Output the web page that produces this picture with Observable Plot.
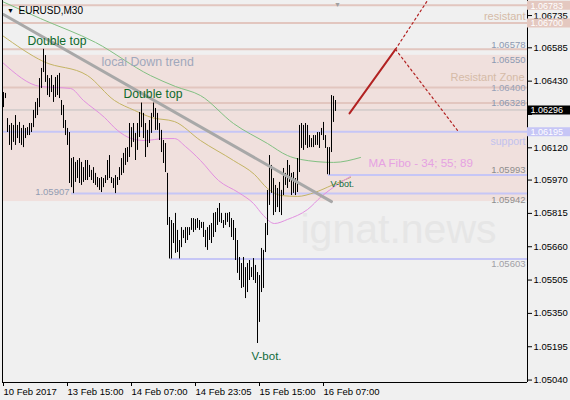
<!DOCTYPE html>
<html>
<head>
<meta charset="utf-8">
<script src="https://cdn.jsdelivr.net/npm/d3@7"></script>
<script src="https://cdn.jsdelivr.net/npm/@observablehq/plot@0.6"></script>
<style>
  html, body { margin: 0; padding: 0; background: #f0f0f0; }
  #chart svg { display: block; }
</style>
</head>
<body>
<div id="chart"></div>
<script>
// EURUSD M30 bars: high / low per bar (bar index 0 = first visible bar)
const symbol = "EURUSD,M30";
const highs = [
  1.06377,1.06373,1.06256,1.06224,1.06233,1.06224,1.06270,1.06224,1.06238,1.06210,
  1.06224,1.06210,1.06214,1.06233,1.06233,1.06294,1.06331,1.06349,1.06442,1.06489,
  1.06578,1.06549,1.06456,1.06442,1.06456,1.06410,1.06447,1.06456,1.06466,1.06340,
  1.06317,1.06247,1.06210,1.06191,1.06070,1.06075,1.06052,1.06061,1.06070,1.06052,
  1.06028,1.06061,1.06061,1.06038,1.06015,1.06028,1.06001,1.05982,1.05977,1.05982,
  1.05977,1.05991,1.06061,1.06084,1.05982,1.05977,1.05991,1.05982,1.06028,1.06070,
  1.06094,1.06117,1.06121,1.06233,1.06214,1.06233,1.06187,1.06233,1.06284,1.06328,
  1.06280,1.06233,1.06201,1.06247,1.06280,1.06328,1.06303,1.06280,1.06233,1.06201,
  1.06154,1.06140,1.06001,1.05796,1.05782,1.05768,1.05815,1.05736,1.05689,1.05749,
  1.05736,1.05749,1.05749,1.05749,1.05791,1.05791,1.05787,1.05791,1.05782,1.05773,
  1.05773,1.05736,1.05749,1.05759,1.05768,1.05815,1.05819,1.05838,1.05861,1.05815,
  1.05782,1.05815,1.05815,1.05819,1.05791,1.05782,1.05745,1.05689,1.05610,1.05582,
  1.05610,1.05563,1.05582,1.05596,1.05563,1.05605,1.05573,1.05540,1.05526,1.05652,
  1.05643,1.05768,1.05922,1.06084,1.06038,1.05977,1.05945,1.05931,1.05959,1.05922,
  1.06024,1.06001,1.06061,1.06038,1.06001,1.06005,1.05977,1.06070,1.06224,1.06233,
  1.06224,1.06233,1.06224,1.06177,1.06163,1.06177,1.06177,1.06191,1.06191,1.06210,
  1.06238,1.06177,1.06121,1.06121,1.06363,1.06359,1.06340
];
const lows = [
  1.06307,1.06349,1.06191,1.06131,1.06108,1.06145,1.06131,1.06163,1.06140,1.06131,
  1.06121,1.06163,1.06177,1.06177,1.06191,1.06214,1.06256,1.06270,1.06307,1.06396,
  1.06470,1.06424,1.06363,1.06354,1.06377,1.06331,1.06354,1.06363,1.06349,1.06270,
  1.06210,1.06177,1.06131,1.05954,1.05935,1.05907,1.05959,1.05977,1.05954,1.05945,
  1.05959,1.05968,1.05968,1.05982,1.05968,1.05954,1.05945,1.05935,1.05922,1.05912,
  1.05935,1.05954,1.05968,1.05977,1.05954,1.05931,1.05907,1.05945,1.05968,1.05991,
  1.06001,1.06038,1.06052,1.06075,1.06121,1.06145,1.06061,1.06108,1.06168,1.06214,
  1.06163,1.06075,1.06121,1.06140,1.06187,1.06261,1.06201,1.06201,1.06154,1.06098,
  1.06047,1.06005,1.05759,1.05603,1.05603,1.05675,1.05629,1.05633,1.05603,1.05656,
  1.05698,1.05675,1.05689,1.05712,1.05736,1.05726,1.05736,1.05745,1.05736,1.05745,
  1.05703,1.05656,1.05643,1.05689,1.05675,1.05703,1.05726,1.05759,1.05773,1.05768,
  1.05745,1.05759,1.05773,1.05749,1.05703,1.05689,1.05596,1.05536,1.05503,1.05466,
  1.05470,1.05419,1.05447,1.05503,1.05517,1.05503,1.05489,1.05210,1.05308,1.05447,
  1.05466,1.05633,1.05712,1.05852,1.05908,1.05805,1.05819,1.05842,1.05819,1.05805,
  1.05898,1.05945,1.05931,1.05959,1.05898,1.05908,1.05898,1.05912,1.06005,1.06117,
  1.06108,1.06131,1.06117,1.06121,1.06121,1.06121,1.06131,1.06131,1.06117,1.06177,
  1.06154,1.06117,1.05995,1.05993,1.06098,1.06238,1.06289
];

// time axis
const timeTicks = [0, 32, 64, 96, 128, 160];
const timeLabels = ["10 Feb 2017", "13 Feb 15:00", "14 Feb 07:00", "14 Feb 23:05", "15 Feb 15:00", "16 Feb 07:00"];

// price axis (the 1.06275 mark sits under the last-price tag, so only its tick is drawn)
const priceTicks = [1.06735, 1.06585, 1.06430, 1.06275, 1.06120, 1.05970, 1.05815, 1.05660, 1.05505, 1.05350, 1.05195, 1.05040];
const coveredTick = 1.06275;
const lastPrice = 1.06296;

// moving averages (MA Fibo 34 / 55 / 89), sampled along the bar index
const ma89Index = [-0.5, 18.5, 46, 73.5, 86, 98.5, 115, 132, 142, 148.5, 165, 178.5];
const ma89Price = [1.06800, 1.06721, 1.06610, 1.06456, 1.06405, 1.06363, 1.06233, 1.06140, 1.06084, 1.06066, 1.06052, 1.06075];
const ma55Index = [-0.5, 20, 42, 55.5, 65.5, 74, 85.5, 98.5, 115, 125.5, 132, 139, 147, 155.5, 164, 173.5];
const ma55Price = [1.06642, 1.06521, 1.06456, 1.06340, 1.06294, 1.06261, 1.06242, 1.06154, 1.06061, 1.05996, 1.05931, 1.05898, 1.05894, 1.05912, 1.05945, 1.05982];
const ma34Index = [-0.5, 18.5, 33.5, 40, 50.5, 57, 64, 70.5, 80.5, 85.5, 91, 98.5, 107.5, 117.5, 125, 130, 135.5, 142, 152, 159, 165.5, 173.5];
const ma34Price = [1.06517, 1.06405, 1.06396, 1.06340, 1.06261, 1.06201, 1.06163, 1.06154, 1.06163, 1.06163, 1.06126, 1.06061, 1.05968, 1.05912, 1.05861, 1.05805, 1.05768, 1.05787, 1.05833, 1.05894, 1.05940, 1.05987];

// resistance levels (line starts at the given bar index)
const resistPrices = [1.06783, 1.06700, 1.06578, 1.06400, 1.06328];
const resistStarts = [-0.5, -0.5, -0.5, -0.5, 62];
// support levels
const supportPrices = [1.06195, 1.05993, 1.05907, 1.05603];
const supportStarts = [-0.5, 162.5, 34, 83.5];
// resistant zone
const zoneTop = 1.06550;
const zoneBottom = 1.05870;

// local down trend line
const trendIndex = [0, 164];
const trendPrice = [1.06740, 1.05870];
// projected move
const projIndex = [173, 196];
const projPrice = [1.06280, 1.06578];
const projUpIndex = [196, 212];
const projUpPrice = [1.06578, 1.06805];
const projDownIndex = [196, 227.5];
const projDownPrice = [1.06578, 1.06195];

// price tags on the right scale
const tagPrices = [1.06783, 1.06700, 1.06296, 1.06195];
const tagKinds = ["resist", "resist", "last", "support"];

// level notes
const noteText = ["1.06578", "1.06550", "1.06400", "1.06328", "1.05993", "1.05942", "1.05603"];
const noteValue = [1.06578, 1.06550, 1.06400, 1.06328, 1.05993, 1.05942, 1.05603];
const leftNoteText = "1.05907";
const leftNoteValue = 1.05907;

// ---------------------------------------------------------------------------
const bars = highs.map((h, i) => ({i, high: h, low: lows[i]}));
const toPts = (xs, ys) => xs.map((x, k) => ({x, y: ys[k]}));
const xMin = -0.5, xMax = 262;
const yMin = 1.050287, yMax = 1.06805;

const tagFill = {resist: "#e4c8c0", last: "#000000", support: "#c6c6f6"};
const noteDy = {"1.06578": -4, "1.06550": 5, "1.06400": 0, "1.06328": 0, "1.05993": -5, "1.05942": 14, "1.05603": 5};
const noteFill = {"1.06578": "#8d9ab2", "1.06550": "#8d9ab2", "1.06400": "#98a2b8", "1.06328": "#8d9ab2", "1.05993": "#8e8e8e", "1.05942": "#8e8e8e", "1.05603": "#a0a0a6"};

const font = "'Liberation Sans', Arial, sans-serif";

const chart = Plot.plot({
  width: 570,
  height: 400,
  marginLeft: 2,
  marginRight: 43,
  marginTop: 0,
  marginBottom: 18,
  style: {background: "#f0f0f0", fontFamily: font, fontSize: "9.5px", color: "#000", overflow: "visible"},
  x: {type: "linear", domain: [xMin, xMax]},
  y: {type: "linear", domain: [yMin, yMax]},
  marks: [
    // resistant zone
    Plot.rect([{top: zoneTop, bottom: zoneBottom}], {x1: xMin, x2: xMax, y1: "bottom", y2: "top", fill: "#f0e0dd"}),
    // watermark
    Plot.text(["ignat.news"], {frameAnchor: "top-left", dx: 298, dy: 229, lineAnchor: "middle", textAnchor: "start", fontSize: 41, fill: "#e6e6e6"}),
    // levels
    Plot.ruleY(resistPrices.map((p, k) => ({p, s: resistStarts[k]})), {y: "p", x1: "s", x2: xMax, stroke: "#e2c6bf", strokeWidth: 2}),
    Plot.ruleY([lastPrice], {x1: xMin, x2: xMax, stroke: "#c0c0c0", strokeWidth: 1}),
    Plot.ruleY(supportPrices.map((p, k) => ({p, s: supportStarts[k]})), {y: "p", x1: "s", x2: xMax, stroke: "#c6c6f6", strokeWidth: 2}),
    // moving averages
    Plot.line(toPts(ma89Index, ma89Price), {x: "x", y: "y", stroke: "#82c082", strokeWidth: 1, curve: "monotone-x"}),
    Plot.line(toPts(ma55Index, ma55Price), {x: "x", y: "y", stroke: "#c4b464", strokeWidth: 1, curve: "monotone-x"}),
    Plot.line(toPts(ma34Index, ma34Price), {x: "x", y: "y", stroke: "#e290e0", strokeWidth: 1, curve: "monotone-x"}),
    // price bars
    Plot.ruleX(bars, {x: "i", y1: "low", y2: "high", stroke: "#000", strokeWidth: 1}),
    // trend line
    Plot.line(toPts(trendIndex, trendPrice), {x: "x", y: "y", stroke: "#a8a8a8", strokeWidth: 3}),
    // projection
    Plot.line(toPts(projIndex, projPrice), {x: "x", y: "y", stroke: "#b22222", strokeWidth: 2}),
    Plot.line(toPts(projUpIndex, projUpPrice), {x: "x", y: "y", stroke: "#b22222", strokeWidth: 1.2, strokeDasharray: "2,3", clip: true}),
    Plot.line(toPts(projDownIndex, projDownPrice), {x: "x", y: "y", stroke: "#b22222", strokeWidth: 1.2, strokeDasharray: "2,3"}),
    // frame
    Plot.ruleX([xMin, xMax], {y1: yMin, y2: yMax, stroke: "#000", strokeWidth: 1}),
    Plot.ruleY([yMin], {x1: xMin, x2: xMax, stroke: "#000", strokeWidth: 1}),
    // axes
    Plot.axisY({anchor: "right", ticks: priceTicks, tickFormat: d => d === coveredTick ? "" : d.toFixed(5), tickSize: 4, tickPadding: 2, label: null, fontSize: 9.5, fill: "#000"}),
    Plot.axisX({anchor: "bottom", ticks: timeTicks, tickFormat: d => timeLabels[timeTicks.indexOf(d)], tickSize: 4, tickPadding: 2, textAnchor: "start", dx: 0, label: null, fontSize: 9.5, fill: "#000"}),
    // price tags
    Plot.ruleY(tagPrices.map((p, k) => ({p, kind: tagKinds[k]})), {y: "p", x1: xMax, x2: xMax + 22, stroke: d => tagFill[d.kind], strokeWidth: 9}),
    Plot.text(tagPrices, {y: d => d, text: d => d.toFixed(5), frameAnchor: "right", dx: 3, dy: 0.5, textAnchor: "start", fontSize: 9, fill: "#fff"}),
    // level notes
    ...noteText.map((t, k) => Plot.text([noteValue[k]], {y: d => d, text: () => t, frameAnchor: "right", dx: -2, dy: noteDy[t], textAnchor: "end", fontSize: 9.5, fill: noteFill[t]})),
    Plot.text([leftNoteValue], {x: 33, y: d => d, text: () => leftNoteText, dy: -2, textAnchor: "end", fontSize: 9.5, fill: "#929cb2"}),
    // annotations
    Plot.text(["Double top"], {x: 12, y: 1.06614, textAnchor: "start", fontSize: 12.2, fill: "#0f6a2c"}),
    Plot.text(["Double top"], {x: 60, y: 1.06370, textAnchor: "start", fontSize: 12.2, fill: "#0f6a2c"}),
    Plot.text(["local Down trend"], {x: 49, y: 1.06517, textAnchor: "start", fontSize: 12.4, fill: "#a0a8bc"}),
    Plot.text(["resistant"], {y: 1.06733, frameAnchor: "right", dx: -2, textAnchor: "end", fontSize: 11, fill: "#d5bba7"}),
    Plot.text(["Resistant Zone"], {y: 1.06447, frameAnchor: "right", dx: -3, textAnchor: "end", fontSize: 11, fill: "#d5bba7"}),
    Plot.text(["support"], {y: 1.06149, frameAnchor: "right", dx: -2, textAnchor: "end", fontSize: 10.5, fill: "#c2c2ee"}),
    Plot.text(["MA Fibo - 34; 55; 89"], {x: 182.5, y: 1.06047, textAnchor: "start", fontSize: 11.6, fill: "#e6a2e2"}),
    Plot.text(["V-bot."], {x: 163.5, y: 1.05949, textAnchor: "start", fontSize: 9, fill: "#0f6a3a"}),
    Plot.text(["V-bot."], {x: 124, y: 1.05150, textAnchor: "start", fontSize: 11.5, fill: "#0f6a3a"}),
    // symbol header
    Plot.text(["\u25BC"], {frameAnchor: "top-left", dx: 8, dy: 10, lineAnchor: "middle", textAnchor: "middle", fontSize: 7, fill: "#000"}),
    Plot.text([symbol], {frameAnchor: "top-left", dx: 16, dy: 10, lineAnchor: "middle", textAnchor: "start", fontSize: 10, fill: "#000"}),
    Plot.text(["\u25BC"], {frameAnchor: "top-left", dx: 335, dy: 4, lineAnchor: "middle", textAnchor: "middle", fontSize: 7, fill: "#a0a0a0"})
  ]
});
document.getElementById("chart").appendChild(chart);
</script>
</body>
</html>
